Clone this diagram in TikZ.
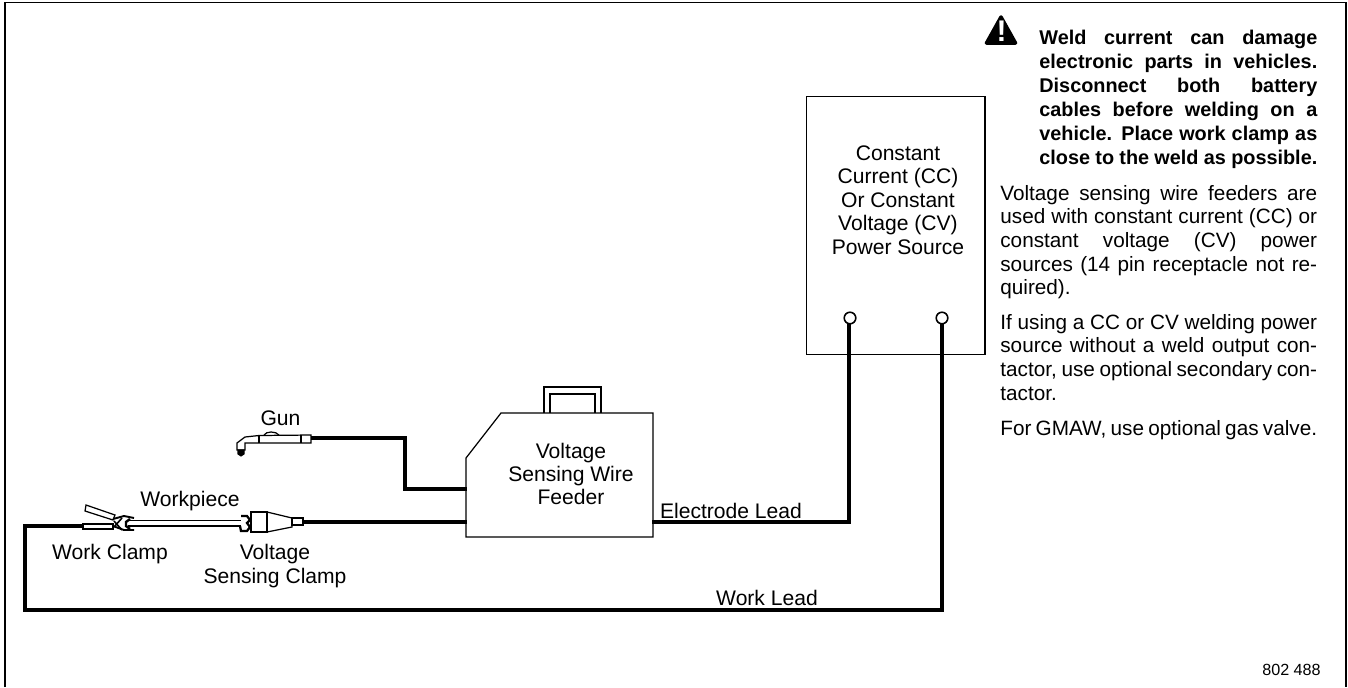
\documentclass[tikz,border=0pt]{standalone}
\usepackage{fontspec}
\setmainfont{Liberation Sans}
\tikzset{
    lbl/.style={align=center, inner sep=0pt, font=\fontsize{12}{13.4}\selectfont},
    note/.style={anchor=north west, inner sep=0pt, text width=180.3pt, align=justify, font=\fontsize{11.8}{13.4}\selectfont},
    wire/.style={line width=2.4pt, line join=miter},
    thin outline/.style={line width=0.7pt, line join=miter},
    term/.style={circle, draw, line width=0.9pt, fill=white, minimum size=6.6pt, inner sep=0pt}
}

\begin{document}
\begin{tikzpicture}[x=0.02cm, y=-0.02cm]
    \useasboundingbox (0,0) rectangle (1348,687);

    % Frame
    \draw[line width=1pt] (5,687) -- (5,2.5) -- (1346,2.5) -- (1346,687);

    % Power source
    \node[draw, thin outline, minimum width=101.5pt, minimum height=146.8pt, inner sep=0pt, anchor=north west] (source) at (806,96) {};
    \node[lbl] at (898,200) (sourcetxt) {Constant\\Current (CC)\\Or Constant\\Voltage (CV)\\Power Source};
    \coordinate (termA) at (850,318);
    \coordinate (termB) at (942,318);

    % Feeder
    \draw[thin outline] (544,413) -- (544,387) -- (601,387) -- (601,413);
    \draw[thin outline] (550,413) -- (550,394) -- (595,394) -- (595,413);
    \draw[thin outline] (466,458) -- (501,413) -- (653,413) -- (653,537) -- (466,537) -- cycle;
    \node[lbl, font=\fontsize{12}{13}\selectfont] at (571,474) (feedertxt) {Voltage\\Sensing Wire\\Feeder};
    \coordinate (feederGun) at (467,489);
    \coordinate (feederSense) at (467,522);
    \coordinate (feederOut) at (652,522);

    % Gun
    \coordinate (gunEnd) at (311,438);
    \coordinate (gunBend) at (405,438);
    \coordinate (gunDown) at (405,489);
    \draw[thin outline] (311,435) -- (259,435.5) -- (245,437) -- (237,443) -- (237,450) -- (245,450) -- (245,443) -- (259,443) -- (311,443) -- cycle;
    \draw[thin outline] (259,435) -- (259,443);
    \draw[thin outline] (301,435) -- (301,443);
    \draw[thin outline] (264,435) .. controls (266,431) and (276,431) .. (279,435);
    \filldraw[line width=0.6pt] (238,450) -- (244,450) -- (244,454) -- (241,456) -- (238,454) -- cycle;
    \draw[wire] (gunEnd) -- (gunBend) -- (gunDown) -- (feederGun);

    % Work clamp
    \draw[thin outline] (83,524) rectangle (113,529);
    \draw[thin outline] (86,505) -- (115,515) -- (113,520) -- (85,511) -- cycle;
    \draw[line width=1.1pt] (113,519) -- (124,516) -- (134,518);
    \draw[line width=1.1pt] (113,526) -- (124,530) -- (134,530);
    \draw[line width=0.9pt] (114,521) -- (122,530);
    \draw[line width=0.9pt] (114,527) -- (122,518);
    \draw[line width=1.4pt] (130,519) -- (126,522) -- (126,526) -- (130,529);

    % Workpiece
    \draw[thin outline] (128,520.5) -- (241,520.5);
    \draw[thin outline] (128,526) -- (241,526);

    % Voltage sensing clamp
    \draw[line width=1.3pt] (241,516) -- (247,516) -- (250,520) -- (247,523) -- (250,527) -- (247,531) -- (241,531) -- (240,526);
    \draw[thin outline] (251,512) rectangle (267,532);
    \draw[thin outline] (267,512) -- (292,518) -- (292,527) -- (267,532);
    \draw[thin outline] (292,518) rectangle (303,525);
    \coordinate (senseEnd) at (303,522);
    \draw[wire] (senseEnd) -- (feederSense);

    % Leads
    \coordinate (leadCorner) at (849,522);
    \draw[wire] (feederOut) -- (leadCorner) -- (849,323);
    \coordinate (workA) at (942,610);
    \coordinate (workB) at (25,610);
    \coordinate (workC) at (25,526);
    \coordinate (clampEnd) at (83,526);
    \draw[wire] (942,323) -- (workA) -- (workB) -- (workC) -- (clampEnd);
    \node[term] at (termA) {};
    \node[term] at (termB) {};

    % Labels
    \node[lbl] at (280.5,418) (gunlbl) {Gun};
    \node[lbl] at (190,501) (worklbl) {Workpiece};
    \node[lbl] at (110,554) (clamplbl) {Work Clamp};
    \node[lbl] at (275,566) (senselbl) {Voltage\\Sensing Clamp};
    \node[lbl] at (731,511) (electrodelbl) {Electrode Lead};
    \node[lbl] at (767,598) (worklead) {Work Lead};
    \node[lbl, font=\fontsize{9.2}{10}\selectfont] at (1291.5,670) (partno) {802 488};

    % Warning
    \filldraw[line join=round, line width=2pt] (1001,17) -- (1015.5,43) -- (986.5,43) -- cycle;
    \node[text=white, font=\bfseries\fontsize{17}{17}\selectfont, inner sep=0pt] (bang) at (1001.5,31) {!};

    % Notes
    \node[note, text width=158.2pt, font=\bfseries\fontsize{11.3}{13.6}\selectfont] (warntxt) at (1039,30) {Weld current can damage\linebreak electronic parts in vehicles.\linebreak Disconnect both battery\linebreak cables before welding on a\linebreak vehicle. Place work clamp as\linebreak close to the weld as possible.};
    \node[note] (notea) at (1000,185) {Voltage sensing wire feeders are\linebreak used with constant current (CC) or\linebreak constant voltage (CV) power\linebreak sources (14 pin receptacle not re-\linebreak quired).};
    \node[note] (noteb) at (1000,314) {If using a CC or CV welding power\linebreak source without a weld output con-\linebreak tactor, use optional secondary con-\linebreak tactor.};
    \node[note] (notec) at (1000,420) {For GMAW, use optional gas valve.};
\end{tikzpicture}
\end{document}
